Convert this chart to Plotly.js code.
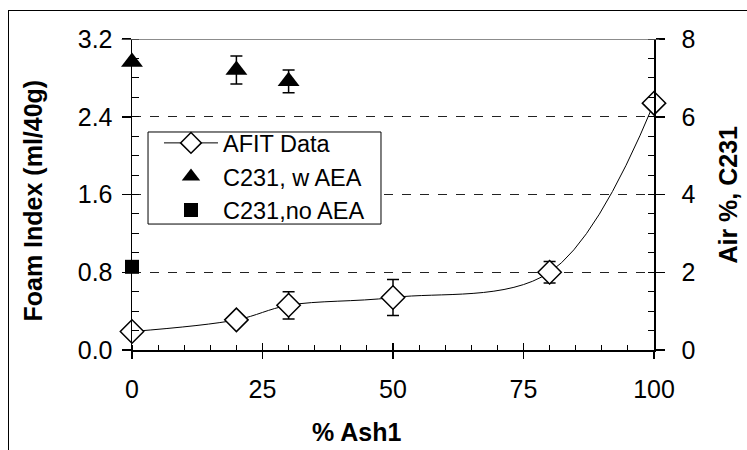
<!DOCTYPE html>
<html>
<head>
<meta charset="utf-8">
<script src="https://cdn.plot.ly/plotly-3.0.1.min.js"></script>
<style>
  html, body { margin: 0; padding: 0; background: #fff; }
  #wrap { position: relative; width: 747px; height: 450px; overflow: hidden; }
  #chart { position: absolute; left: 0; top: 0; width: 747px; height: 450px; }
  #frame { position: absolute; left: 8px; top: 10px; width: 760px; height: 460px;
           border-left: 1.5px solid #000; border-top: 1.5px solid #000; pointer-events: none; }
</style>
</head>
<body>
<div id="wrap"><div id="chart"></div><div id="frame"></div></div>
<script>
// ---- data ----
const ashPct      = [0, 20, 30, 50, 80, 100];
const foamIndex   = [0.19, 0.31, 0.46, 0.54, 0.80, 2.54];
const foamErr     = [0, 0, 0.14, 0.185, 0.11, 0];

const aeaAsh      = [0, 20, 30];
const aeaAir      = [7.41, 7.20, 6.91];
const aeaErr      = [0, 0.36, 0.29];

const noAeaAsh    = [0];
const noAeaAir    = [2.14];

const xTickVals   = [0, 25, 50, 75, 100];
const yLeftTicks  = [0, 0.8, 1.6, 2.4, 3.2];
const yRightTicks = [0, 2, 4, 6, 8];

const FONT = 'Liberation Sans, Arial, sans-serif';

const traces = [
  {
    name: 'AFIT Data', x: ashPct, y: foamIndex, yaxis: 'y', xaxis: 'x',
    mode: 'lines+markers', cliponaxis: false, legendgroup: 'a',
    line: { color: '#000', width: 1, shape: 'spline', smoothing: 1 },
    marker: { symbol: 'diamond', size: 18, color: '#fff', line: { color: '#000', width: 1.5 } },
    error_y: { type: 'data', array: foamErr, visible: true, color: '#000', thickness: 1.5, width: 6 }
  },
  {
    name: 'C231, w AEA', x: aeaAsh, y: aeaAir, yaxis: 'y2', xaxis: 'x',
    mode: 'markers', cliponaxis: false, legendgroup: 'b',
    marker: { symbol: 'triangle-up', size: 19, color: '#000' },
    error_y: { type: 'data', array: aeaErr, visible: true, color: '#000', thickness: 1.5, width: 6 }
  },
  {
    name: 'C231,no AEA', x: noAeaAsh, y: noAeaAir, yaxis: 'y2', xaxis: 'x',
    mode: 'markers', cliponaxis: false, legendgroup: 'c',
    marker: { symbol: 'square', size: 14, color: '#000' }
  },
  { x: [], y: [], xaxis: 'x2', yaxis: 'y', showlegend: false, hoverinfo: 'skip' }
];

const layout = {
  width: 747, height: 450,
  margin: { l: 132, r: 93, t: 39, b: 100 },
  paper_bgcolor: '#fff', plot_bgcolor: '#fff',
  font: { family: FONT, color: '#000', size: 24 },
  showlegend: true,
  legend: {
    x: 0.0517, y: 0.736, xanchor: 'left', yanchor: 'top',
    bgcolor: 'rgba(0,0,0,0)', borderwidth: 0,
    font: { family: FONT, size: 23.5, color: '#000' },
    traceorder: 'grouped', tracegroupgap: 0, itemwidth: 54
  },
  xaxis: {
    range: [0, 100], tickvals: xTickVals, ticks: 'outside', ticklen: 7, tickwidth: 1.5, tickcolor: '#000',
    showline: true, linecolor: '#000', linewidth: 1.5, showgrid: false, zeroline: false,
    tickfont: { family: FONT, size: 25 }, ticklabelstandoff: 9,
    minor: { dtick: 5, ticks: 'inside', ticklen: 5, tickcolor: '#000', tickwidth: 1, showgrid: false }
  },
  xaxis2: {
    overlaying: 'x', anchor: 'y', range: [0, 100], tickvals: xTickVals, ticks: 'inside', ticklen: 7,
    tickwidth: 1.5, tickcolor: '#000', showticklabels: false, showline: false, showgrid: false, zeroline: false
  },
  yaxis: {
    range: [0, 3.2], tickvals: yLeftTicks, tickformat: '.1f', ticks: 'outside', ticklen: 9, tickwidth: 1.5,
    tickcolor: '#000', showline: true, linecolor: '#000', linewidth: 1.5, zeroline: false,
    showgrid: true, gridcolor: '#222', griddash: 'dash', gridwidth: 1,
    tickfont: { family: FONT, size: 25 }, ticklabelstandoff: 4,
    minor: { dtick: 0.2, ticks: 'inside', ticklen: 7, tickcolor: '#000', tickwidth: 1, showgrid: false }
  },
  yaxis2: {
    overlaying: 'y', side: 'right', anchor: 'x', range: [0, 8], tickvals: yRightTicks,
    ticks: 'outside', ticklen: 9, tickwidth: 1.5, tickcolor: '#000',
    showline: true, linecolor: '#000', linewidth: 1.5, zeroline: false, showgrid: false,
    tickfont: { family: FONT, size: 25 }, ticklabelstandoff: 12,
    minor: { dtick: 0.5, ticks: 'inside', ticklen: 6, tickcolor: '#000', tickwidth: 1, showgrid: false }
  },
  shapes: [
    { type: 'line', xref: 'paper', yref: 'y', x0: -0.02, x1: 1.01, y0: 3.2, y1: 3.2, line: { color: '#666', width: 1.5 } },
    { type: 'rect', xref: 'paper', yref: 'paper', x0: 0.0307, x1: 0.477, y0: 0.405, y1: 0.701,
      fillcolor: '#fff', line: { color: '#000', width: 1 }, layer: 'above' }
  ],
  annotations: [
    { text: '<b>% Ash1</b>', xref: 'paper', yref: 'paper', x: 0.431, y: -0.264, xanchor: 'center', yanchor: 'middle',
      showarrow: false, font: { family: FONT, size: 25 } },
    { text: '<b>Foam Index (ml/40g)</b>', xref: 'paper', yref: 'paper', x: -0.19, y: 0.48, xanchor: 'center', yanchor: 'middle',
      textangle: -90, showarrow: false, font: { family: FONT, size: 25 } },
    { text: '<b>Air %, C231</b>', xref: 'paper', yref: 'paper', x: 1.14, y: 0.5, xanchor: 'center', yanchor: 'middle',
      textangle: -90, showarrow: false, font: { family: FONT, size: 25 } }
  ]
};

Plotly.newPlot('chart', traces, layout, { displayModeBar: false, staticPlot: true });
</script>
</body>
</html>
